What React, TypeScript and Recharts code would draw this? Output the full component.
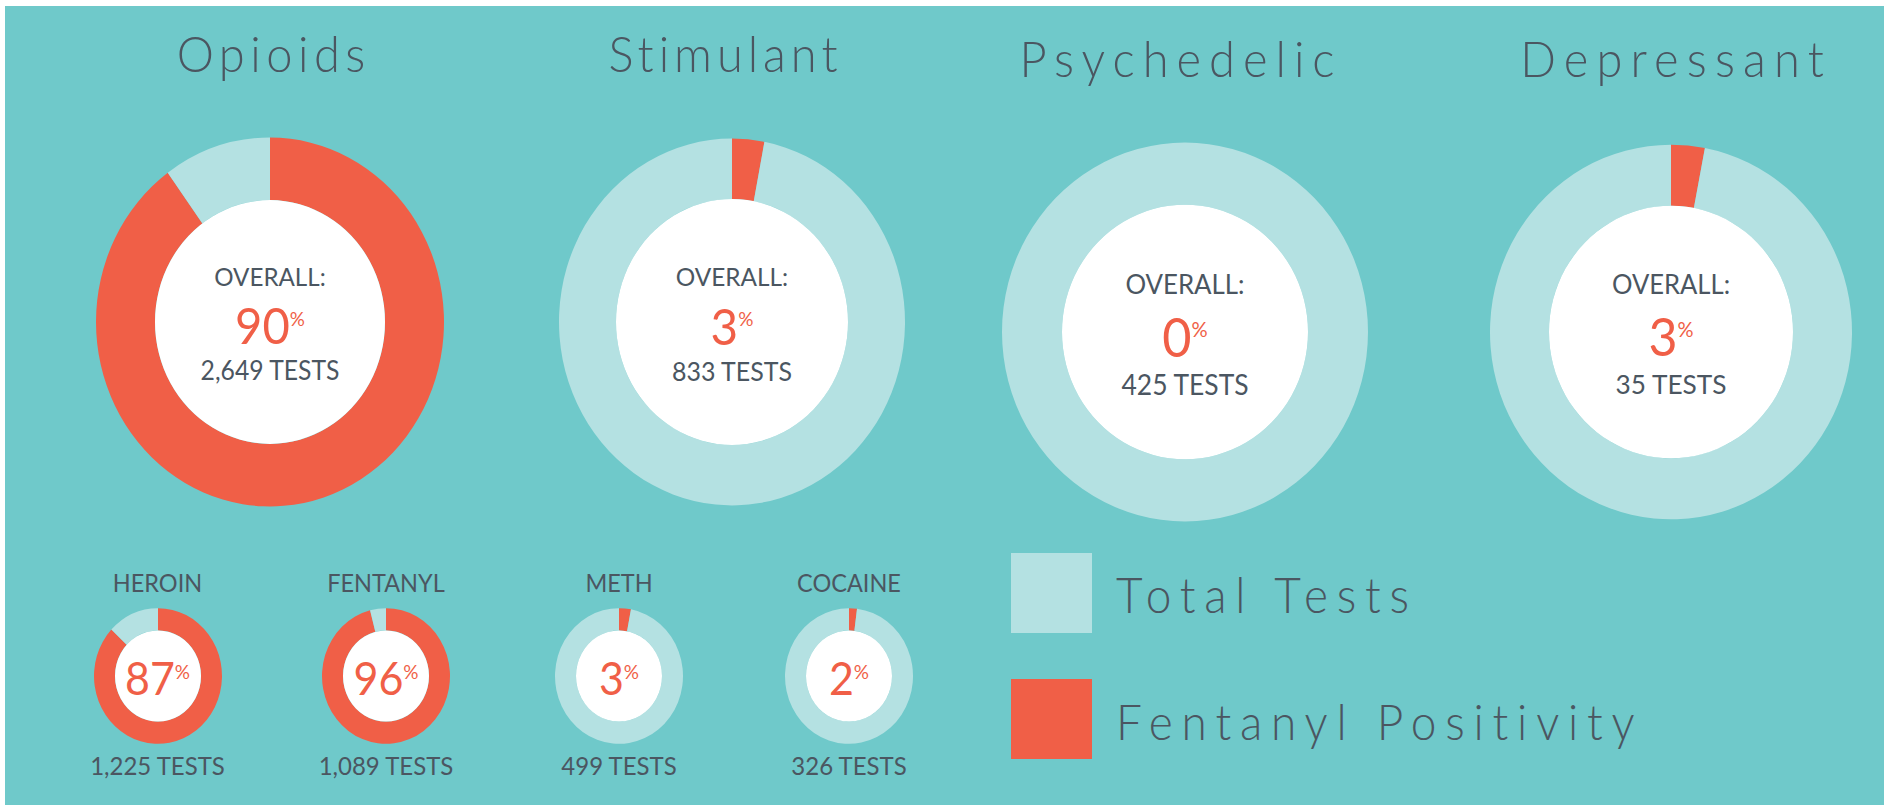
import React from "react";
import { PieChart, Pie, Cell } from "recharts";

// overall fentanyl positivity by drug class
const bigNames = ["Opioids", "Stimulant", "Psychedelic", "Depressant"];
const bigPositive = [90, 3, 0, 3];
const bigTests = [2649, 833, 425, 35];

// breakdown for individual drugs
const subNames = ["HEROIN", "FENTANYL", "METH", "COCAINE"];
const subPositive = [87, 96, 3, 2];
const subTests = [1225, 1089, 499, 326];

const legendLabels = ["Total Tests", "Fentanyl Positivity"];

const TEAL = "#6fc9ca";
const LIGHT = "#b4e1e2";
const RED = "#f05f47";
const DARK = "#4b5661";
const FONT = "Lato, 'Open Sans', sans-serif";
const STRETCH = 1.06; // the source image is slightly taller than wide

// where each donut sits on the page
const bigLayout = [
  { cx: 270, cy: 321.5, r: 174, ir: 115, k: 1.06, titleX: 271, titleY: 72, ls: 5.5 },
  { cx: 732, cy: 321.5, r: 173, ir: 116, k: 1.06, titleX: 723, titleY: 72, ls: 5 },
  { cx: 1185, cy: 332, r: 183, ir: 123, k: 1.035, titleX: 1177, titleY: 77, ls: 8 },
  { cx: 1671, cy: 332, r: 181, ir: 122, k: 1.035, titleX: 1672, titleY: 77, ls: 8.2 },
];
const subLayout = [
  { cx: 157.5, cy: 676 },
  { cx: 386, cy: 676 },
  { cx: 619, cy: 676 },
  { cx: 849, cy: 676 },
];

function Donut({
  cx,
  cy,
  r,
  ir,
  k,
  positive,
}: {
  cx: number;
  cy: number;
  r: number;
  ir: number;
  k: number;
  positive: number;
}) {
  const size = r * 2 + 12;
  const data = [
    { name: legendLabels[1], value: positive },
    { name: legendLabels[0], value: 100 - positive },
  ];
  return (
    <div
      style={{
        position: "absolute",
        left: cx - size / 2,
        top: cy - size / 2,
        width: size,
        height: size,
        transform: `scaleY(${k})`,
      }}
    >
      <PieChart width={size} height={size} margin={{ top: 0, right: 0, bottom: 0, left: 0 }}>
        <Pie
          data={data}
          dataKey="value"
          cx="50%"
          cy="50%"
          innerRadius={ir}
          outerRadius={r}
          startAngle={90}
          endAngle={-270}
          stroke="none"
          isAnimationActive={false}
        >
          {data.map((d, i) => (
            <Cell key={d.name} fill={i === 0 ? RED : LIGHT} />
          ))}
        </Pie>
        <Pie
          data={[{ name: "center", value: 1 }]}
          dataKey="value"
          cx="50%"
          cy="50%"
          innerRadius={0}
          outerRadius={ir}
          fill="#ffffff"
          stroke="none"
          isAnimationActive={false}
        />
      </PieChart>
    </div>
  );
}

// text stretched vertically around its baseline, like the source
function T({ y, children, ...rest }: any) {
  return (
    <text y={y} transform={`matrix(1,0,0,${STRETCH},0,${y * (1 - STRETCH)})`} {...rest}>
      {children}
    </text>
  );
}

export default function App() {
  return (
    <div
      style={{
        position: "absolute",
        left: 0,
        top: 0,
        width: 1884,
        height: 805,
        background: "#ffffff",
        overflow: "hidden",
        fontFamily: FONT,
      }}
    >
      <div style={{ position: "absolute", left: 5, top: 6, right: 0, bottom: 0, background: TEAL }} />

      {bigLayout.map((l, i) => (
        <Donut key={bigNames[i]} cx={l.cx} cy={l.cy} r={l.r} ir={l.ir} k={l.k} positive={bigPositive[i]} />
      ))}
      {subLayout.map((l, i) => (
        <Donut key={subNames[i]} cx={l.cx} cy={l.cy} r={64} ir={43} k={1.06} positive={subPositive[i]} />
      ))}

      <svg
        width={1884}
        height={805}
        style={{ position: "absolute", left: 0, top: 0, pointerEvents: "none" }}
        fontFamily={FONT}
      >
        {bigLayout.map((l, i) => {
          const pf = l.ir * 0.41;
          return (
            <g key={bigNames[i]}>
              <T
                x={l.titleX + l.ls / 2}
                y={l.titleY}
                textAnchor="middle"
                fontSize={47}
                fontWeight={300}
                fill={DARK}
                style={{ letterSpacing: l.ls }}
              >
                {bigNames[i]}
              </T>
              <T x={l.cx} y={l.cy - l.ir * 0.31} textAnchor="middle" fontSize={l.ir * 0.21} fill={DARK}>
                OVERALL:
              </T>
              <T x={l.cx} y={l.cy + l.ir * 0.2} textAnchor="middle" fill={RED}>
                <tspan fontSize={pf}>{bigPositive[i]}</tspan>
                <tspan fontSize={pf * 0.4} dy={-pf * 0.37}>
                  %
                </tspan>
              </T>
              <T x={l.cx} y={l.cy + l.ir * 0.51} textAnchor="middle" fontSize={l.ir * 0.215} fill={DARK}>
                {bigTests[i].toLocaleString("en-US")} TESTS
              </T>
            </g>
          );
        })}

        {subLayout.map((l, i) => (
          <g key={subNames[i]}>
            <T x={l.cx} y={592} textAnchor="middle" fontSize={23.5} fill={DARK}>
              {subNames[i]}
            </T>
            <T x={l.cx} y={695} textAnchor="middle" fill={RED}>
              <tspan fontSize={43}>{subPositive[i]}</tspan>
              <tspan fontSize={19} dy={-15}>
                %
              </tspan>
            </T>
            <T x={l.cx} y={775} textAnchor="middle" fontSize={24} fill={DARK}>
              {subTests[i].toLocaleString("en-US")} TESTS
            </T>
          </g>
        ))}

        {legendLabels.map((label, i) => (
          <g key={label}>
            <rect x={1011} y={553 + i * 126} width={81} height={80} fill={i === 0 ? LIGHT : RED} />
            <T
              x={1116}
              y={613 + i * 127}
              fontSize={46}
              fontWeight={300}
              fill={DARK}
              style={{ letterSpacing: 8.8 }}
            >
              {label}
            </T>
          </g>
        ))}
      </svg>
    </div>
  );
}
